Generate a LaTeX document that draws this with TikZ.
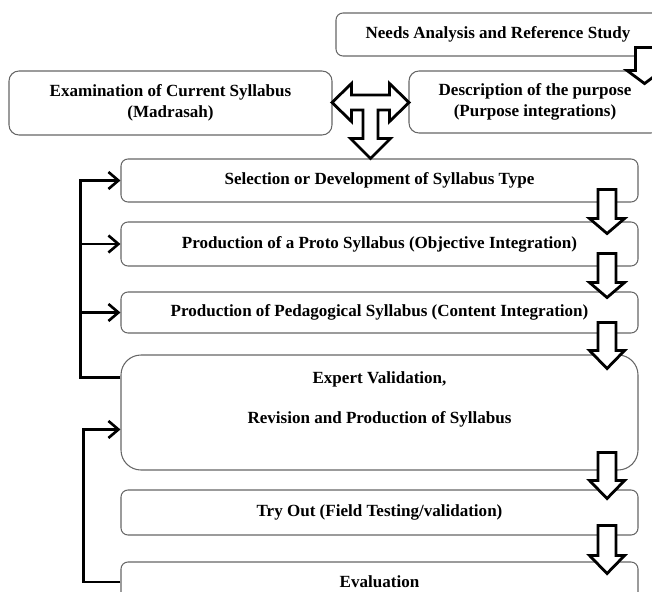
\documentclass[tikz,border=0pt]{standalone}
\usepackage{fontspec}
\setmainfont{Liberation Serif}
\usetikzlibrary{arrows.meta,positioning,calc}

\begin{document}
\begin{tikzpicture}[
    x=0.2mm, y=-0.2mm,
    every node/.style={font=\fontsize{9.7}{12}\selectfont\bfseries},
    box/.style={rectangle, rounded corners=1.4mm, draw=black!60, line width=0.6pt,
        minimum width=10.34cm, minimum height=0.86cm, align=center, inner sep=0pt},
    fb/.style={line width=1.5pt, -{Straight Barb[length=2mm, width=3.4mm]}},
    pics/blockdown/.style n args={2}{code={
        \draw[line width=1.6pt, fill=white, line join=miter]
            (-9,0) -- (9,0) -- (9,#1) -- (17.5,#1) -- (0,#1+#2) -- (-17.5,#1) -- (-9,#1) -- cycle;}},
]
\clip (0,0) rectangle (652,591);

% Top boxes
\node[box, minimum width=6.48cm] (needs) at (498,34.5) {Needs Analysis and Reference Study};
\node[box, rounded corners=2mm, minimum width=6.46cm, minimum height=1.28cm] (exam) at (170.5,103)
    {Examination of Current Syllabus\\(Madrasah)};
\node[box, rounded corners=2mm, minimum width=5.04cm, minimum height=1.24cm] (desc) at (535,102)
    {Description of the purpose\\(Purpose integrations)};

% Main steps
\node[box] (sel) at (379.5,180.5) {Selection or Development of Syllabus Type};
\node[box, minimum height=0.88cm] (proto) at (379.5,244) {Production of a Proto Syllabus (Objective Integration)};
\node[box, minimum height=0.82cm] (peda) at (379.5,312.5) {Production of Pedagogical Syllabus (Content Integration)};
\node[box, rounded corners=4mm, minimum height=2.3cm] (expert) at (379.5,412.5) {};
\node[align=center, inner sep=0pt, anchor=north] (expertlbl) at (379.5,371)
    {Expert Validation,\\[11pt]Revision and Production of Syllabus};
\node[box, minimum height=0.9cm] (tryout) at (379.5,512.5) {Try Out (Field Testing/validation)};
\node[box, minimum height=0.8cm] (eval) at (379.5,582) {Evaluation};

% Block arrows
\pic at ($(needs.south east)+(-16,-9)$) {blockdown={23}{13}};
\pic at ($(sel.south east)+(-31.5,-13)$) {blockdown={29}{15}};
\pic at ($(proto.south east)+(-31.5,-13)$) {blockdown={29}{15}};
\pic at ($(peda.south east)+(-31.5,-11)$) {blockdown={28}{18}};
\pic at ($(expert.south east)+(-31.5,-18)$) {blockdown={28}{18}};
\pic at ($(tryout.south east)+(-31.5,-10)$) {blockdown={30}{18}};

% T arrow between the two upper boxes
\coordinate (tee) at ($(exam.east)!0.5!(desc.west)$);
\draw[line width=1.6pt, fill=white, line join=miter, shift={(tee)}]
    (-38.5,0) -- (-19,-19) -- (-19,-7.5) -- (19,-7.5) -- (19,-19) -- (38.5,0) -- (19,19) -- (19,7.5)
    -- (7.5,7.5) -- (7.5,36) -- (20,36) -- (0,56) -- (-20,36) -- (-7.5,36) -- (-7.5,7.5)
    -- (-19,7.5) -- (-19,19) -- cycle;

% Feedback lines
\coordinate (busA) at ($(expert.north west)+(-40,23)$);
\draw[fb] ($(expert.north west)+(0,23)$) -- (busA) |- (sel.west);
\draw[fb] (busA |- proto.west) -- (proto.west);
\draw[fb] (busA |- peda.west) -- (peda.west);

\coordinate (busB) at ($(eval.west)+(-37,0)$);
\draw[fb] (eval.west) -- (busB) |- ($(expert.north west)+(0,75)$);

\end{tikzpicture}
\end{document}
